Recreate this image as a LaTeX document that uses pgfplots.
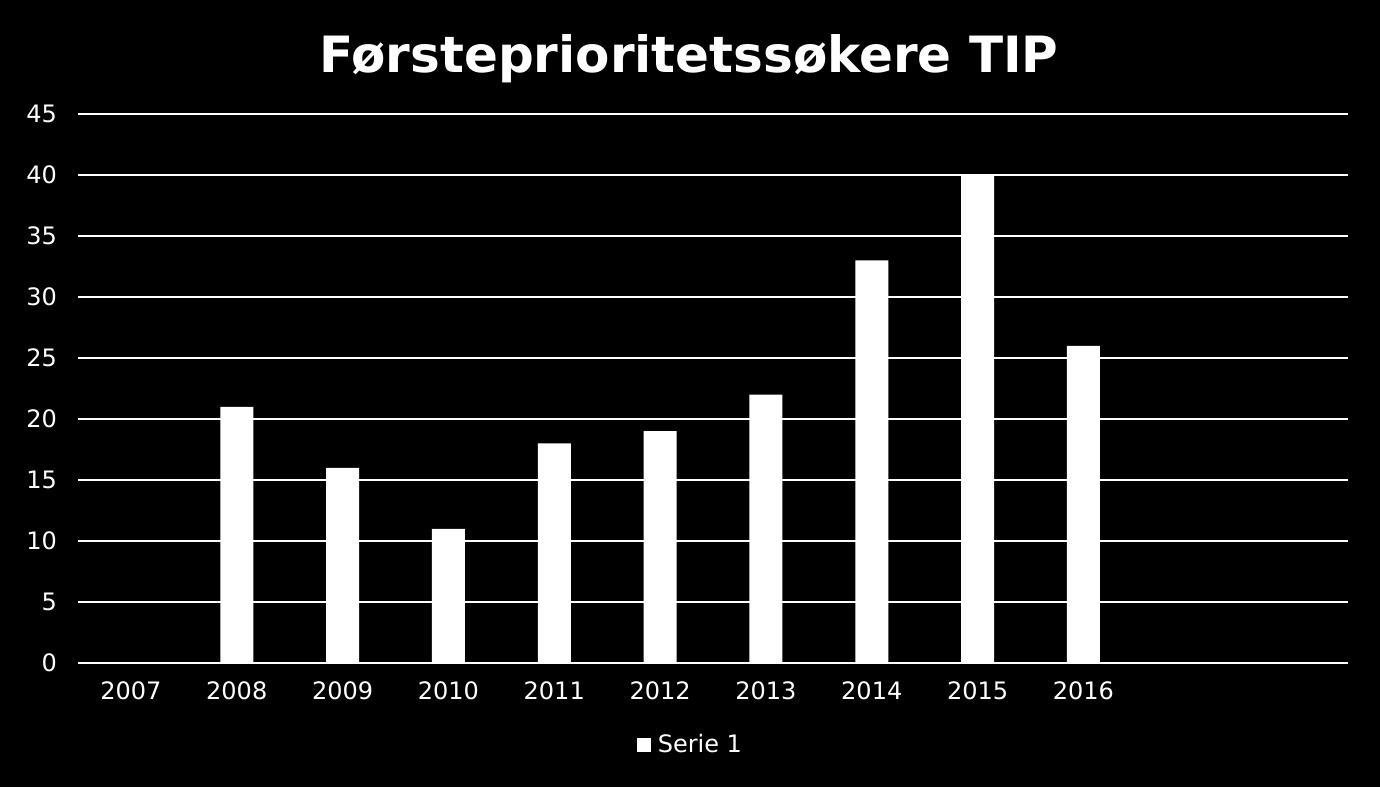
\documentclass[border=0pt]{standalone}
\usepackage{fontspec}
\setmainfont{DejaVu Sans}
\usepackage{pgfplots}
\pgfplotsset{compat=1.18}
\begin{document}
\begin{tikzpicture}
\fill[black] (0pt,0pt) rectangle (690pt,393.5pt);
\node[text=white,font=\bfseries\fontsize{25}{29}\selectfont] at (344.5pt,364pt) {Førsteprioritetssøkere TIP};
\begin{axis}[
  at={(39pt,62pt)}, anchor=south west,
  scale only axis, width=635pt, height=274.5pt,
  xmin=-0.5, xmax=11.5, ymin=0, ymax=45,
  ytick={0,5,...,45},
  xtick={0,...,9},
  xticklabels={2007,2008,2009,2010,2011,2012,2013,2014,2015,2016},
  major tick length=0pt,
  axis line style={draw=none},
  ymajorgrids, grid style={white, line width=1pt},
  ticklabel style={text=white, font=\fontsize{12}{14}\selectfont},
  /pgf/number format/assume math mode=true,
  yticklabel style={xshift=-7pt},
  xticklabel style={yshift=-6pt},
  legend style={at={(0.483,-0.149)}, anchor=center, draw=none, fill=none, text=white, font=\fontsize{12}{14}\selectfont},
  legend image code/.code={\fill[white] (0pt,-3.5pt) rectangle (7pt,3.5pt);},
]
\addplot[ybar, fill=white, draw=none, bar width=16.5pt] coordinates {
(0,0) (1,21) (2,16) (3,11) (4,18) (5,19) (6,22) (7,33) (8,40) (9,26)};
\addlegendentry{\hspace{1.5pt}Serie 1}
\end{axis}
\end{tikzpicture}
\end{document}
